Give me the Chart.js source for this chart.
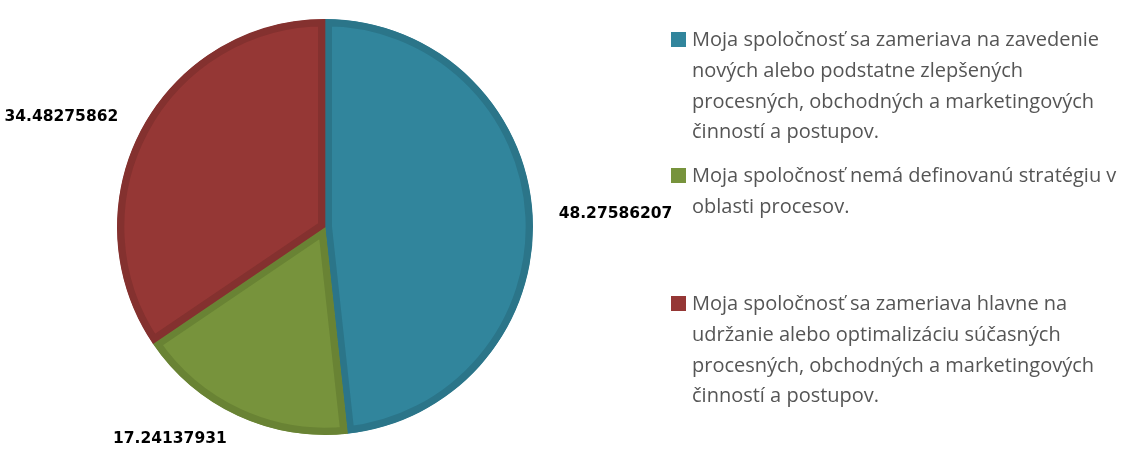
<!DOCTYPE html>
<html>
<head>
<meta charset="utf-8">
<script src="https://cdn.jsdelivr.net/npm/chart.js@4.4.1/dist/chart.umd.min.js"></script>
<style>
html,body{margin:0;padding:0;background:#fff;}
#wrap{position:relative;width:1140px;height:451px;}
</style>
</head>
<body>
<div id="wrap"><canvas id="c" width="1140" height="451"></canvas></div>
<script>
const categories = [
  ["Moja spoločnosť sa zameriava na zavedenie", "nových alebo podstatne zlepšených", "procesných, obchodných a marketingových", "činností a postupov."],
  ["Moja spoločnosť nemá definovanú stratégiu v", "oblasti procesov."],
  ["Moja spoločnosť sa zameriava hlavne na", "udržanie alebo optimalizáciu súčasných", "procesných, obchodných a marketingových", "činností a postupov."]
];
const values = [48.27586207, 17.24137931, 34.48275862];
const valueLabels = ["48.27586207", "17.24137931", "34.48275862"];
const fillColors = ["#31859C", "#77933C", "#953735"];
const borderColors = ["#2B7589", "#698334", "#84312F"];

const labelPlugin = {
  id: 'sliceLabels',
  afterDatasetsDraw(chart) {
    const ctx = chart.ctx;
    const meta = chart.getDatasetMeta(0);
    ctx.save();
    ctx.font = 'bold 15.5px "DejaVu Sans"';
    ctx.fillStyle = '#000';
    ctx.textBaseline = 'middle';
    meta.data.forEach((arc, i) => {
      const p = arc.getProps(['x','y','startAngle','endAngle','outerRadius'], true);
      const mid = (p.startAngle + p.endAngle) / 2;
      const r = p.outerRadius + 26;
      const x = p.x + Math.cos(mid) * r;
      const y = p.y + Math.sin(mid) * r;
      ctx.textAlign = Math.cos(mid) >= 0 ? 'left' : 'right';
      ctx.fillText(valueLabels[i], x, y);
    });
    ctx.restore();
  }
};

const legendPlugin = {
  id: 'sideLegend',
  afterDraw(chart) {
    const ctx = chart.ctx;
    const tops = [39.5, 175.5, 303.5];
    const lineH = 30.7;
    ctx.save();
    ctx.font = '20px "Open Sans"';
    ctx.textBaseline = 'middle';
    ctx.textAlign = 'left';
    categories.forEach((lines, i) => {
      ctx.fillStyle = fillColors[i];
      ctx.fillRect(671, tops[i] - 7.5, 15, 15);
      ctx.fillStyle = '#555555';
      lines.forEach((ln, j) => {
        ctx.fillText(ln, 692, tops[i] + 1 + j * lineH);
      });
    });
    ctx.restore();
  }
};

new Chart(document.getElementById('c'), {
  type: 'pie',
  data: {
    labels: categories.map(l => l.join(' ')),
    datasets: [{
      data: values,
      backgroundColor: fillColors,
      borderColor: borderColors,
      borderWidth: 7,
      borderAlign: 'inner'
    }]
  },
  options: {
    responsive: false,
    animation: false,
    layout: { padding: { left: 117, right: 607, top: 19, bottom: 16 } },
    plugins: { legend: { display: false }, tooltip: { enabled: false } }
  },
  plugins: [labelPlugin, legendPlugin]
});
</script>
</body>
</html>
